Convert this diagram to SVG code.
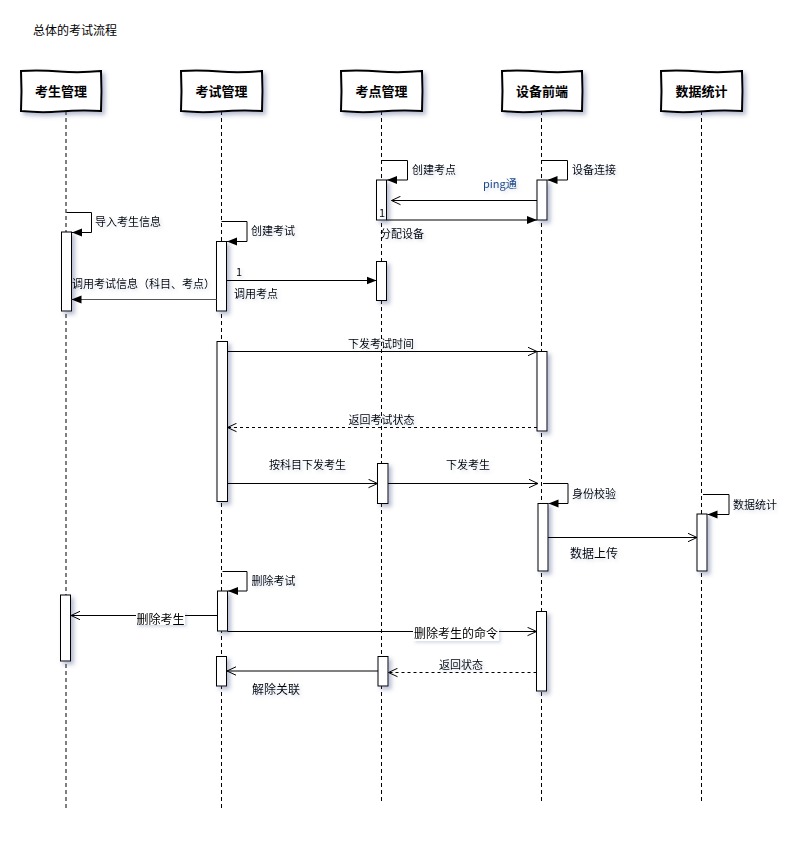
<svg xmlns="http://www.w3.org/2000/svg" width="809" height="844" viewBox="0 0 809 844">
<defs>
<filter id="sh" x="-20%" y="-20%" width="150%" height="150%">
<feDropShadow dx="3" dy="3" stdDeviation="2" flood-color="#4a5a8a" flood-opacity="0.4"/>
</filter>
<filter id="tsh" x="-10%" y="-30%" width="130%" height="180%">
<feDropShadow dx="2" dy="2" stdDeviation="1.5" flood-color="#6a7aa8" flood-opacity="0.25"/>
</filter>
<marker id="fa" markerUnits="userSpaceOnUse" markerWidth="11" markerHeight="9" refX="10" refY="4.5" orient="auto">
<path d="M0,0.5 L10,4.5 L0,8.5 z" fill="#000"/>
</marker>
<marker id="oa" markerUnits="userSpaceOnUse" markerWidth="11" markerHeight="10" refX="9.5" refY="5" orient="auto">
<path d="M0.5,0.8 L9.5,5 L0.5,9.2" fill="none" stroke="#000" stroke-width="1"/>
</marker>
</defs>
<style>
text{font-family:"Noto Sans CJK SC","Liberation Sans",sans-serif;fill:#000}
.t{font-size:12px}
.s{font-size:11px}
.m{font-size:12px}
.h{font-size:13px;font-weight:bold}
.ping{font-size:11px;fill:#1a4a8a}
.head{fill:#fff;stroke:#000;stroke-width:2}
.life{stroke:#000;stroke-width:1;stroke-dasharray:4 3;fill:none}
.act{fill:#fff;stroke:#000;stroke-width:1}
.msg{stroke:#000;stroke-width:1;fill:none}
.dsh{stroke:#000;stroke-width:1;fill:none;stroke-dasharray:3 3}
.bg{fill:#fff}
</style>
<rect width="809" height="844" fill="#fff"/>
<text class="t" x="33" y="35">总体的考试流程</text>

<g id="lifelines">
<line class="life" x1="66" y1="111" x2="66" y2="811"/>
<line class="life" x1="221.5" y1="111" x2="221.5" y2="811"/>
<line class="life" x1="381.5" y1="111" x2="381.5" y2="801"/>
<line class="life" x1="541.5" y1="111" x2="541.5" y2="801"/>
<line class="life" x1="701.5" y1="111" x2="701.5" y2="801"/>
</g>

<g id="p-student">
<path class="head" filter="url(#sh)" d="M21,71 Q40,70 60,71.5 T101,71 L101.5,91 L101,111 Q80,110 60,111.5 T21,111 L21.5,91 Z"/>
<text class="h" x="61" y="96" text-anchor="middle">考生管理</text>
</g>
<g id="p-exam">
<path class="head" filter="url(#sh)" d="M181,71 Q200,70 220,71.5 T262,71 L262.5,91 L262,111 Q240,110 220,111.5 T181,111 L181.5,91 Z"/>
<text class="h" x="221.5" y="96" text-anchor="middle">考试管理</text>
</g>
<g id="p-site">
<path class="head" filter="url(#sh)" d="M341,71 Q360,70 380,71.5 T422,71 L422.5,91 L422,111 Q400,110 380,111.5 T341,111 L341.5,91 Z"/>
<text class="h" x="381.5" y="96" text-anchor="middle">考点管理</text>
</g>
<g id="p-device">
<path class="head" filter="url(#sh)" d="M502,71 Q520,70 540,71.5 T582,71 L582.5,91 L582,111 Q560,110 540,111.5 T502,111 L502.5,91 Z"/>
<text class="h" x="542" y="96" text-anchor="middle">设备前端</text>
</g>
<g id="p-stats">
<path class="head" filter="url(#sh)" d="M661,71 Q680,70 700,71.5 T742,71 L742.5,91 L742,111 Q720,110 700,111.5 T661,111 L661.5,91 Z"/>
<text class="h" x="701.5" y="96" text-anchor="middle">数据统计</text>
</g>

<g id="activations" filter="url(#sh)">
<rect class="act" x="376.5" y="180" width="10" height="40"/>
<rect class="act" x="537" y="180" width="10" height="40"/>
<rect class="act" x="61.5" y="232" width="10" height="79"/>
<rect class="act" x="216.5" y="241.5" width="10" height="69.5"/>
<rect class="act" x="376.5" y="261.5" width="10" height="39"/>
<rect class="act" x="217" y="341.5" width="10.5" height="160"/>
<rect class="act" x="537" y="351.5" width="10" height="79.5"/>
<rect class="act" x="377.5" y="463.5" width="10.5" height="40"/>
<rect class="act" x="538" y="503.5" width="10" height="67.5"/>
<rect class="act" x="697" y="514" width="10" height="57"/>
<rect class="act" x="217.5" y="591" width="10" height="40"/>
<rect class="act" x="60.5" y="595" width="10" height="66"/>
<rect class="act" x="536.5" y="611.5" width="10" height="79.5"/>
<rect class="act" x="216.5" y="656.5" width="10" height="29.5"/>
<rect class="act" x="378" y="656.5" width="10" height="29.5"/>
</g>

<g id="connectors">
<!-- 创建考点 self -->
<path class="msg" d="M382,160.5 H407.5 V180 H387" marker-end="url(#fa)"/>
<!-- 设备连接 self -->
<path class="msg" d="M542,160.5 H567.5 V180 H547.5" marker-end="url(#fa)"/>
<!-- ping通 -->
<line class="msg" x1="537" y1="200.5" x2="391.5" y2="200.5" marker-end="url(#oa)"/>
<!-- 分配设备 -->
<line class="msg" x1="386.5" y1="220" x2="537" y2="220" marker-end="url(#fa)"/>
<!-- 导入考生信息 self -->
<path class="msg" d="M66.5,212.5 H91.5 V232.5 H72" marker-end="url(#fa)"/>
<!-- 创建考试 self -->
<path class="msg" d="M221.5,221.5 H247 V241.5 H227" marker-end="url(#fa)"/>
<!-- 调用考点 -->
<line class="msg" x1="226.5" y1="280.5" x2="376.5" y2="280.5" marker-end="url(#fa)"/>
<!-- 调用考试信息 -->
<line class="msg" x1="216.5" y1="299.5" x2="71.5" y2="299.5" stroke-width="1.5" style="stroke:#555" marker-end="url(#fa)"/>
<!-- 下发考试时间 -->
<line class="msg" x1="227.5" y1="351.5" x2="537" y2="351.5" marker-end="url(#oa)"/>
<!-- 返回考试状态 -->
<line class="dsh" x1="537" y1="427.5" x2="227.5" y2="427.5" marker-end="url(#oa)"/>
<!-- 按科目下发考生 -->
<line class="msg" x1="227.5" y1="483.5" x2="377.5" y2="483.5" marker-end="url(#oa)"/>
<!-- 下发考生 -->
<line class="msg" x1="388" y1="483.5" x2="538" y2="483.5" marker-end="url(#oa)"/>
<!-- 身份校验 self -->
<path class="msg" d="M543,483.5 H568 V503.5 H548.5" marker-end="url(#fa)"/>
<!-- 数据统计 self -->
<path class="msg" d="M703,494.5 H729 V514.5 H707.5" marker-end="url(#fa)"/>
<!-- 数据上传 -->
<line class="msg" x1="548" y1="537.5" x2="697" y2="537.5" marker-end="url(#oa)"/>
<!-- 删除考试 self -->
<path class="msg" d="M222.5,571.5 H247 V591 H228" marker-end="url(#fa)"/>
<!-- 删除考生 -->
<line class="msg" x1="217.5" y1="615.5" x2="71" y2="615.5" marker-end="url(#oa)"/>
<!-- 删除考生的命令 -->
<line class="msg" x1="227.5" y1="631.5" x2="536.5" y2="631.5" marker-end="url(#oa)"/>
<!-- 返回状态 -->
<line class="dsh" x1="536.5" y1="672.5" x2="388.5" y2="672.5" marker-end="url(#oa)"/>
<!-- 解除关联 -->
<line class="msg" x1="378" y1="671" x2="227" y2="671" marker-end="url(#oa)"/>
</g>

<g id="labels" filter="url(#tsh)">
<text class="s" x="412" y="174">创建考点</text>
<text class="s" x="572" y="174">设备连接</text>
<text class="ping" x="483" y="188">ping通</text>
<text class="s" x="379" y="217">1</text>
<text class="s" x="380" y="238">分配设备</text>
<text class="s" x="95" y="226">导入考生信息</text>
<text class="s" x="251" y="235">创建考试</text>
<text class="s" x="72" y="287.5">调用考试信息（科目、考点）</text>
<text class="s" x="236" y="276">1</text>
<text class="s" x="234" y="297.5">调用考点</text>
<text class="s" x="381" y="348" text-anchor="middle">下发考试时间</text>
<text class="s" x="381.5" y="423.5" text-anchor="middle">返回考试状态</text>
<text class="s" x="269" y="469">按科目下发考生</text>
<text class="s" x="446" y="469">下发考生</text>
<text class="s" x="572" y="497.5">身份校验</text>
<text class="s" x="733" y="508.5">数据统计</text>
<text class="m" x="570" y="558">数据上传</text>
<text class="s" x="251.5" y="585">删除考试</text>
<rect class="bg" x="136" y="611" width="49" height="14"/>
<text class="m" x="136.5" y="623.5">删除考生</text>
<rect class="bg" x="413" y="627" width="86" height="14"/>
<text class="m" x="414" y="638">删除考生的命令</text>
<text class="s" x="439" y="668.5">返回状态</text>
<text class="m" x="252" y="694">解除关联</text>
</g>
</svg>
